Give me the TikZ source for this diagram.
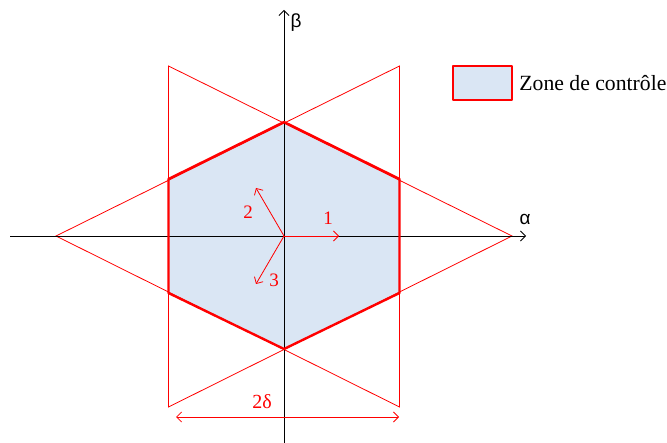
\documentclass[tikz,border=0pt]{standalone}
\usepackage{fontspec}
\setmainfont{Liberation Serif}
\setsansfont{Liberation Sans}
\usetikzlibrary{arrows.meta, positioning}
\definecolor{zonefill}{HTML}{DAE6F4}
\definecolor{zonered}{HTML}{FF0000}

\begin{document}
\begin{tikzpicture}[x=1pt, y=-1pt,
  axis/.style={black, line width=0.8pt, -{Straight Barb[length=5pt, width=10pt]}},
  zone/.style={fill=zonefill, draw=zonered, line width=2.4pt, line join=round},
  sector/.style={draw=zonered, line width=0.8pt},
  vect/.style={zonered, line width=0.8pt, -{Straight Barb[length=5pt, width=10pt]}},
  vlabel/.style={text=zonered, font=\fontsize{19}{22}\selectfont, inner sep=0pt},
  axlabel/.style={font=\sffamily\fontsize{19}{22}\selectfont, inner sep=0pt}
]
  \useasboundingbox (0,0) rectangle (667,443);

  % hexagon and the two triangles
  \coordinate (O) at (284,236);
  \coordinate (h1) at (284,122);
  \coordinate (h2) at (399.5,179);
  \coordinate (h3) at (399.5,293);
  \coordinate (h4) at (284,349);
  \coordinate (h5) at (168.5,293);
  \coordinate (h6) at (168.5,179);
  \fill[zonefill] (h1) -- (h2) -- (h3) -- (h4) -- (h5) -- (h6) -- cycle;

  \coordinate (ta1) at (56,236);
  \coordinate (ta2) at (399.5,66);
  \coordinate (ta3) at (399.5,407);
  \coordinate (tb1) at (512,236);
  \coordinate (tb2) at (168.5,66);
  \coordinate (tb3) at (168.5,407);
  \draw[sector] (ta1) -- (ta2) -- (ta3) -- cycle;
  \draw[sector] (tb1) -- (tb2) -- (tb3) -- cycle;

  % axes
  \coordinate (xstart) at (10,236);
  \coordinate (xend) at (526,236);
  \coordinate (ystart) at (284,443);
  \coordinate (yend) at (284,10);
  \draw[axis] (xstart) -- (xend);
  \draw[axis] (ystart) -- (yend);
  \node[axlabel] (alpha) at (525,219) {α};
  \node[axlabel] (beta) at (296,23) {β};

  \draw[zone, fill=none] (h1) -- (h2) -- (h3) -- (h4) -- (h5) -- (h6) -- cycle;

  % switching vectors
  \coordinate (v1) at (339,236);
  \coordinate (v2) at (256,188);
  \coordinate (v3) at (256,284);
  \foreach \i/\lx/\ly in {1/328/218, 2/248/212, 3/274/280} {
    \draw[vect] (O) -- (v\i);
    \node[vlabel] (l\i) at (\lx,\ly) {\i};
  }

  % width of the zone
  \coordinate (dleft) at (176,417);
  \coordinate (dright) at (399,417);
  \draw[vect, {Straight Barb[length=5pt, width=10pt]}-{Straight Barb[length=5pt, width=10pt]}] (dleft) -- (dright);
  \node[vlabel, font=\fontsize{20}{24}\selectfont] (dlabel) at (262,402) {2δ};

  % legend
  \node[zone, minimum width=59pt, minimum height=34pt, inner sep=0pt] (legendbox) at (482.5,83) {};
  \node[right=6pt of legendbox, inner sep=0pt, font=\fontsize{21.7}{26}\selectfont] (legendtext) {Zone de contrôle};
\end{tikzpicture}
\end{document}
